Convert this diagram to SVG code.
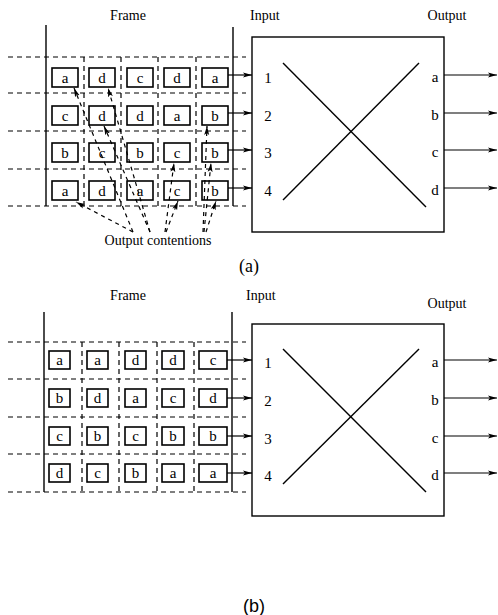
<svg xmlns="http://www.w3.org/2000/svg" width="498" height="615" viewBox="0 0 498 615">
<style>
.solid{stroke:#000;stroke-width:1.4;fill:none}
.dash{stroke:#000;stroke-width:1.2;stroke-dasharray:5 4;fill:none}
.cell rect{fill:none;stroke:#000;stroke-width:1.6}
text{font-family:"Liberation Serif","Times New Roman",serif;font-size:14px;fill:#000}
.cell text,.lbl{font-size:15px}
.c{text-anchor:middle}
.arr{stroke:#000;stroke-width:1.2;fill:none;marker-end:url(#ah)}
.darr{stroke:#000;stroke-width:1.2;stroke-dasharray:4 4;fill:none;marker-end:url(#ah)}
</style>
<defs>
<marker id="ah" markerUnits="userSpaceOnUse" markerWidth="9" markerHeight="6" refX="9" refY="3" orient="auto">
<path d="M0,0.5 L9,3 L0,5.5 L2,3 z" fill="#000"/>
</marker>
</defs>
<rect width="498" height="615" fill="#fff"/>

<!-- ===== (a) ===== -->
<g id="a-labels">
<text x="128" y="20" class="c">Frame</text>
<text x="250" y="20">Input</text>
<text x="447" y="20" class="c">Output</text>
<text x="158" y="245" class="c">Output contentions</text>
<text x="249" y="272" class="c" style="font-size:18px">(a)</text>
</g>
<g id="a-frame">
<line class="solid" x1="46" y1="25" x2="46" y2="206"/>
<line class="solid" x1="233" y1="27" x2="233" y2="206"/>
<path class="dash" d="M8,57H246M8,93H246M8,131H246M8,169H246M8,206H246"/>
<path class="dash" d="M84,57V206M121,57V206M158,57V206M196,57V206"/>
</g>
<g id="a-cells" class="cell">
<g id="a-r1">
<rect x="52" y="68" width="26" height="19"/><text x="65" y="82.5" class="c">a</text>
<rect x="89" y="68" width="26" height="19"/><text x="102" y="82.5" class="c">d</text>
<rect x="127" y="68" width="26" height="19"/><text x="140" y="82.5" class="c">c</text>
<rect x="164" y="68" width="26" height="19"/><text x="177" y="82.5" class="c">d</text>
<rect x="202" y="68" width="26" height="19"/><text x="215" y="82.5" class="c">a</text>
</g>
<g id="a-r2">
<rect x="52" y="106" width="26" height="19"/><text x="65" y="120.5" class="c">c</text>
<rect x="89" y="106" width="26" height="19"/><text x="102" y="120.5" class="c">d</text>
<rect x="127" y="106" width="26" height="19"/><text x="140" y="120.5" class="c">d</text>
<rect x="164" y="106" width="26" height="19"/><text x="177" y="120.5" class="c">a</text>
<rect x="202" y="106" width="26" height="19"/><text x="215" y="120.5" class="c">b</text>
</g>
<g id="a-r3">
<rect x="52" y="143" width="26" height="19"/><text x="65" y="157.5" class="c">b</text>
<rect x="89" y="143" width="26" height="19"/><text x="102" y="157.5" class="c">c</text>
<rect x="127" y="143" width="26" height="19"/><text x="140" y="157.5" class="c">b</text>
<rect x="164" y="143" width="26" height="19"/><text x="177" y="157.5" class="c">c</text>
<rect x="202" y="143" width="26" height="19"/><text x="215" y="157.5" class="c">b</text>
</g>
<g id="a-r4">
<rect x="52" y="181" width="26" height="19"/><text x="65" y="195.5" class="c">a</text>
<rect x="89" y="181" width="26" height="19"/><text x="102" y="195.5" class="c">d</text>
<rect x="127" y="181" width="26" height="19"/><text x="140" y="195.5" class="c">a</text>
<rect x="164" y="181" width="26" height="19"/><text x="177" y="195.5" class="c">c</text>
<rect x="202" y="181" width="26" height="19"/><text x="215" y="195.5" class="c">b</text>
</g>
</g>
<g id="a-switch">
<rect class="solid" x="252" y="37" width="192" height="195"/>
<line class="solid" x1="283" y1="63" x2="426" y2="207"/>
<line class="solid" x1="283" y1="200" x2="419" y2="63"/>
<text x="268" y="83" class="c lbl">1</text>
<text x="268" y="121" class="c lbl">2</text>
<text x="268" y="158" class="c lbl">3</text>
<text x="268" y="196" class="c lbl">4</text>
<text x="435" y="82" class="c lbl">a</text>
<text x="435" y="120" class="c lbl">b</text>
<text x="435" y="157" class="c lbl">c</text>
<text x="435" y="195" class="c lbl">d</text>
</g>
<g id="a-connectors">
<line class="arr" x1="228" y1="75" x2="252" y2="75"/>
<line class="arr" x1="228" y1="113" x2="252" y2="113"/>
<line class="arr" x1="228" y1="150" x2="252" y2="150"/>
<line class="arr" x1="228" y1="188" x2="252" y2="188"/>
<line class="arr" x1="444" y1="75" x2="497" y2="75"/>
<line class="arr" x1="444" y1="113" x2="497" y2="113"/>
<line class="arr" x1="444" y1="150" x2="497" y2="150"/>
<line class="arr" x1="444" y1="188" x2="497" y2="188"/>
<line class="darr" x1="133" y1="232" x2="76" y2="202"/>
<line class="darr" x1="133" y1="232" x2="74" y2="88"/>
<line class="darr" x1="150" y1="232" x2="104" y2="126"/>
<line class="darr" x1="150" y1="232" x2="108" y2="88"/>
<line class="darr" x1="165" y1="232" x2="174" y2="163"/>
<line class="darr" x1="166" y1="232" x2="178" y2="201"/>
<line class="darr" x1="203" y1="232" x2="207" y2="126"/>
<line class="darr" x1="204" y1="232" x2="211" y2="163"/>
<line class="darr" x1="206" y1="232" x2="216" y2="201"/>
</g>

<!-- ===== (b) ===== -->
<g id="b-labels">
<text x="128" y="300" class="c">Frame</text>
<text x="246" y="300">Input</text>
<text x="447" y="308" class="c">Output</text>
<text x="254" y="612" class="c" style="font-family:'Liberation Sans',Arial,sans-serif;font-size:18px">(b)</text>
</g>
<g id="b-frame">
<line class="solid" x1="44" y1="312" x2="44" y2="492"/>
<line class="solid" x1="232" y1="312" x2="232" y2="492"/>
<path class="dash" d="M8,342H246M8,379H246M8,417H246M8,454H246M8,492H246"/>
<path class="dash" d="M82,342V492M119,342V492M157,342V492M194,342V492"/>
</g>
<g id="b-cells" class="cell">
<g id="b-r1">
<rect x="49" y="351" width="21" height="18"/><text x="59.5" y="365" class="c">a</text>
<rect x="87" y="351" width="21" height="18"/><text x="97.5" y="365" class="c">a</text>
<rect x="125" y="351" width="21" height="18"/><text x="135.5" y="365" class="c">d</text>
<rect x="162" y="351" width="22" height="18"/><text x="173" y="365" class="c">d</text>
<rect x="199" y="351" width="28" height="18"/><text x="213" y="365" class="c">c</text>
</g>
<g id="b-r2">
<rect x="49" y="389" width="21" height="18"/><text x="59.5" y="403" class="c">b</text>
<rect x="87" y="389" width="21" height="18"/><text x="97.5" y="403" class="c">d</text>
<rect x="125" y="389" width="21" height="18"/><text x="135.5" y="403" class="c">a</text>
<rect x="162" y="389" width="22" height="18"/><text x="173" y="403" class="c">c</text>
<rect x="199" y="389" width="28" height="18"/><text x="213" y="403" class="c">d</text>
</g>
<g id="b-r3">
<rect x="49" y="427" width="21" height="18"/><text x="59.5" y="441" class="c">c</text>
<rect x="87" y="427" width="21" height="18"/><text x="97.5" y="441" class="c">b</text>
<rect x="125" y="427" width="21" height="18"/><text x="135.5" y="441" class="c">c</text>
<rect x="162" y="427" width="22" height="18"/><text x="173" y="441" class="c">b</text>
<rect x="199" y="427" width="28" height="18"/><text x="213" y="441" class="c">b</text>
</g>
<g id="b-r4">
<rect x="49" y="464" width="21" height="18"/><text x="59.5" y="478" class="c">d</text>
<rect x="87" y="464" width="21" height="18"/><text x="97.5" y="478" class="c">c</text>
<rect x="125" y="464" width="21" height="18"/><text x="135.5" y="478" class="c">b</text>
<rect x="162" y="464" width="22" height="18"/><text x="173" y="478" class="c">a</text>
<rect x="199" y="464" width="28" height="18"/><text x="213" y="478" class="c">a</text>
</g>
</g>
<g id="b-switch">
<rect class="solid" x="252" y="324" width="192" height="192"/>
<line class="solid" x1="283" y1="349" x2="426" y2="492"/>
<line class="solid" x1="283" y1="484" x2="419" y2="349"/>
<text x="268" y="368" class="c lbl">1</text>
<text x="268" y="406" class="c lbl">2</text>
<text x="268" y="444" class="c lbl">3</text>
<text x="268" y="481" class="c lbl">4</text>
<text x="435" y="367" class="c lbl">a</text>
<text x="435" y="405" class="c lbl">b</text>
<text x="435" y="443" class="c lbl">c</text>
<text x="435" y="480" class="c lbl">d</text>
</g>
<g id="b-connectors">
<line class="arr" x1="227" y1="360" x2="252" y2="360"/>
<line class="arr" x1="227" y1="398" x2="252" y2="398"/>
<line class="arr" x1="227" y1="436" x2="252" y2="436"/>
<line class="arr" x1="227" y1="473" x2="252" y2="473"/>
<line class="arr" x1="444" y1="360" x2="497" y2="360"/>
<line class="arr" x1="444" y1="398" x2="497" y2="398"/>
<line class="arr" x1="444" y1="436" x2="497" y2="436"/>
<line class="arr" x1="444" y1="473" x2="497" y2="473"/>
</g>
</svg>
